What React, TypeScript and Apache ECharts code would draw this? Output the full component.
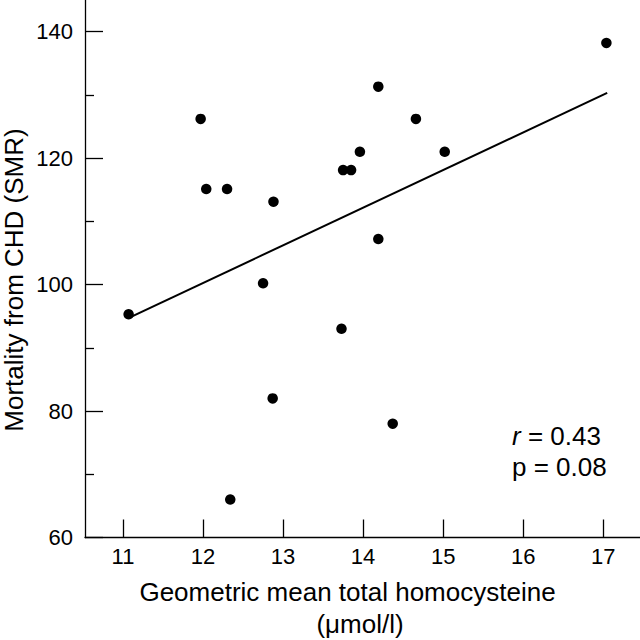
import React, { useEffect, useRef } from "react";
import * as echarts from "echarts";

const homocysteine = [11.07, 11.97, 12.04, 12.3, 12.88, 12.75, 17.04, 14.19, 14.66, 13.96, 15.02, 13.75, 13.85, 14.19, 12.87, 12.34, 13.73, 14.37];
const smr = [95.3, 126.2, 115.1, 115.1, 113.1, 100.2, 138.2, 131.3, 126.2, 121.0, 121.0, 118.1, 118.1, 107.2, 82.0, 66.0, 93.0, 78.0];
const fitX = [11.1, 17.05];
const fitY = [94.9, 130.3];
const xTicks = [11, 12, 13, 14, 15, 16, 17];
const yTicks = [60, 80, 100, 120, 140];
const yMinorTicks = [70, 90, 110, 130];

const FONT = "Liberation Sans, Arial, Helvetica, sans-serif";
const INK = "#000000";

export default function App() {
  const ref = useRef<HTMLDivElement>(null);
  useEffect(() => {
    if (!ref.current) return;
    const chart = echarts.init(ref.current, null, { renderer: "svg" });
    const points = homocysteine.map((x, i) => [x, smr[i]]);
    const fit = fitX.map((x, i) => [x, fitY[i]]);
    chart.setOption({
      animation: false,
      backgroundColor: "#ffffff",
      grid: { left: 85, right: 0, top: 0, bottom: 102.5, containLabel: false },
      xAxis: {
        type: "value",
        min: 10.525,
        max: 17.46,
        splitLine: { show: false },
        axisLine: { show: true, onZero: false, lineStyle: { color: INK, width: 1.3 } },
        axisTick: { show: true, inside: true, length: 18, customValues: xTicks, lineStyle: { color: INK, width: 1.3 } },
        axisLabel: { customValues: xTicks, margin: 8, color: INK, fontSize: 22, fontFamily: FONT },
      },
      yAxis: [
        {
          type: "value",
          min: 60,
          max: 145,
          splitLine: { show: false },
          axisLine: { show: true, onZero: false, lineStyle: { color: INK, width: 1.3 } },
          axisTick: { show: true, inside: true, length: 18, customValues: yTicks, lineStyle: { color: INK, width: 1.3 } },
          axisLabel: { customValues: yTicks, margin: 12, color: INK, fontSize: 22, fontFamily: FONT },
        },
        {
          type: "value",
          min: 60,
          max: 145,
          position: "left",
          offset: 0,
          splitLine: { show: false },
          axisLine: { show: false },
          axisTick: { show: true, inside: true, length: 9, customValues: yMinorTicks, lineStyle: { color: INK, width: 1.3 } },
          axisLabel: { show: false },
        },
      ],
      series: [
        {
          type: "scatter",
          data: points,
          symbol: "circle",
          symbolSize: 10.5,
          itemStyle: { color: "#000000", opacity: 1 },
        },
        {
          type: "line",
          data: fit,
          showSymbol: false,
          symbol: "none",
          lineStyle: { color: "#000000", width: 2 },
        },
      ],
      graphic: [
        {
          type: "text",
          x: 14,
          y: 280,
          rotation: Math.PI / 2,
          style: {
            text: "Mortality from CHD (SMR)",
            fill: INK,
            font: `26px ${FONT}`,
            align: "center",
            verticalAlign: "middle",
          },
        },
        {
          type: "text",
          x: 347.5,
          y: 592,
          style: {
            text: "Geometric mean total homocysteine",
            fill: INK,
            font: `26px ${FONT}`,
            align: "center",
            verticalAlign: "middle",
          },
        },
        {
          type: "text",
          x: 360,
          y: 624,
          style: {
            text: "(μmol/l)",
            fill: INK,
            font: `26px ${FONT}`,
            align: "center",
            verticalAlign: "middle",
          },
        },
        {
          type: "text",
          x: 512,
          y: 436,
          style: {
            text: "{r|r}{n| = 0.43}",
            align: "left",
            verticalAlign: "middle",
            rich: {
              r: { fill: INK, fontStyle: "italic", fontSize: 26, fontFamily: FONT },
              n: { fill: INK, fontSize: 26, fontFamily: FONT },
            },
          },
        },
        {
          type: "text",
          x: 512,
          y: 467,
          style: {
            text: "p = 0.08",
            fill: INK,
            font: `26px ${FONT}`,
            align: "left",
            verticalAlign: "middle",
          },
        },
      ],
    });
    return () => chart.dispose();
  }, []);
  return <div ref={ref} style={{ width: 640, height: 640, position: "absolute", left: 0, top: 0 }} />;
}
